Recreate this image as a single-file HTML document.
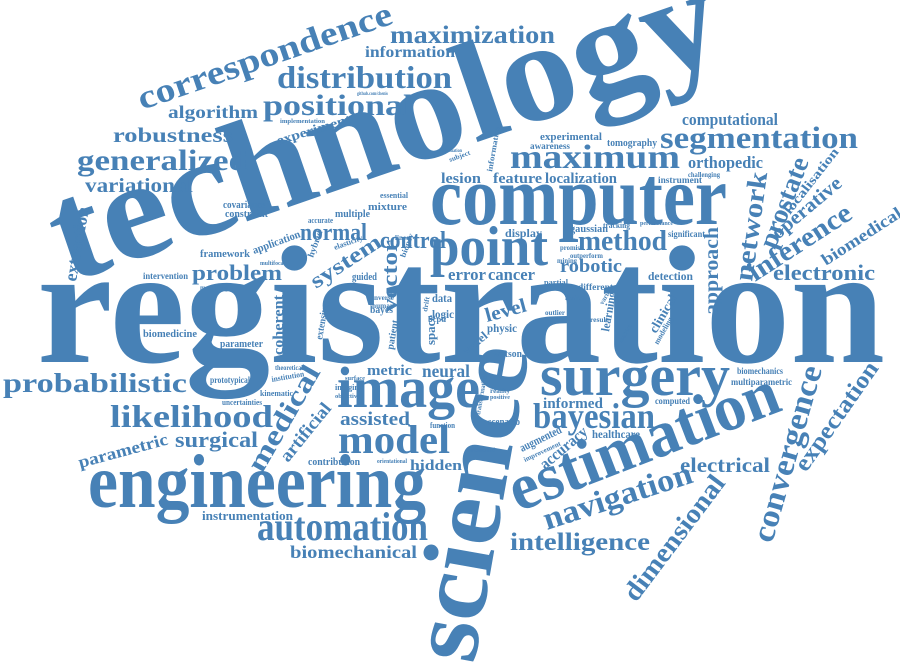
<!DOCTYPE html>
<html><head><meta charset="utf-8">
<style>
html,body{margin:0;padding:0;background:#fff;width:900px;height:672px;overflow:hidden}
svg{display:block}
text{font-family:"Liberation Serif",serif;font-weight:bold;fill:#4781b6}
</style></head>
<body>
<svg id="cloud" width="900" height="672" viewBox="0 0 900 672" xmlns="http://www.w3.org/2000/svg"></svg>
<script>
// word, baseline-start x, baseline y, font size, rotation deg, text length
const words = [
["registration",37,362,168,0,848],
["technology",68,283,142,-19,700],
["science",474,665,100,-80,318],
["computer",430,224,84,0,297],
["engineering",88,507,76,0,338],
["estimation",518,512,66,-21,285],
["image",337,407,58,0,143],
["surgery",540,395,58,0,190],
["point",430,265,56,0,118],
["correspondence",142,110,34,-19,267],
["maximization",390,43,25,0,165],
["information",365,57,16,0,90],
["distribution",277,88,32,0,175],
["positional",263,115,30,0,150],
["algorithm",168,118,18,0,90],
["robustness",113,142,21,0,120],
["generalized",77,170,30,0,171],
["variational",85,192,20,0,108],
["experiment",278,145,13,-17,77],
["implementation",280,123,6,0,45],
["github.com/chenis",357,95,5,0,31],
["segmentation",660,148,31,0,198],
["maximum",510,168,34,0,170],
["computational",682,125,17,0,96],
["experimental",540,140,11,0,62],
["awareness",530,149,9,0,40],
["tomography",607,146,10,0,50],
["orthopedic",688,168,17,0,75],
["lesion",441,183,15,0,40],
["feature",493,183,15,0,49],
["localization",545,183,15,0,72],
["instrument",658,183,9,0,44],
["challenging",688,177,7,0,32],
["network",752,282,27,-82,110],
["prostate",775,250,27,-69,95],
["localisation",790,215,13,-52,80],
["operative",778,240,20,-40,85],
["inference",755,282,28,-33,118],
["biomedical",826,266,17,-33,92],
["electronic",773,280,22,0,102],
["approach",718,315,20,-90,88],
["method",578,250,28,0,89],
["robotic",560,272,19,0,62],
["error",448,280,17,0,38],
["cancer",488,280,17,0,47],
["detection",648,280,12,0,45],
["display",505,237,12,0,37],
["gaussian",570,232,11,0,38],
["significant",668,237,9,0,37],
["level",487,322,20,-15,42],
["physic",487,332,12,0,30],
["watson",493,357,11,0,29],
["clinical",656,334,13,-60,42],
["learning",609,332,12,-80,40],
["biomechanics",737,374,9,0,46],
["multiparametric",731,385,9,0,61],
["informatics",492,172,8,-80,45],
["control",380,248,24,0,66],
["normal",300,240,24,0,67],
["vector",397,312,22,-90,72],
["system",316,289,22,-33,80],
["problem",192,280,22,0,90],
["framework",200,257,11,0,50],
["intervention",143,279,9,0,45],
["application",254,254,11,-20,50],
["extraction",76,282,18,-80,75],
["covariance",223,208,10,0,42],
["constraint",225,217,10,0,43],
["multiple",335,217,10,0,35],
["mixture",368,210,10,0,39],
["essential",380,198,8,0,28],
["accurate",308,223,8,0,25],
["guided",352,280,10,0,25],
["bayes",370,313,10,0,23],
["data",432,302,12,0,20],
["logic",432,318,12,0,22],
["extensive",322,340,10,-80,36],
["patient",393,350,10,-80,30],
["biomedicine",143,337,11,0,54],
["parameter",220,347,11,0,43],
["coherent",283,355,15,-90,60],
["probabilistic",3,392,27,0,184],
["likelihood",110,427,32,0,163],
["parametric",80,468,17,-15,92],
["surgical",175,447,22,0,83],
["medical",262,474,28,-60,118],
["artificial",288,463,18,-51,70],
["prototypical",210,383,9,0,40],
["uncertainties",222,405,8,0,40],
["kinematic",260,396,8,0,33],
["institution",272,382,8,-10,33],
["theoretical",275,370,7,0,28],
["metric",367,375,15,0,45],
["neural",422,377,18,0,48],
["assisted",340,425,19,0,70],
["model",338,453,40,0,112],
["contribution",308,465,10,0,52],
["orientational",377,463,6,0,30],
["hidden",410,470,15,0,52],
["function",430,428,8,0,25],
["scenario",488,425,11,0,32],
["informed",543,408,15,0,60],
["bayesian",533,428,36,0,122],
["computed",655,404,9,0,35],
["healthcare",592,438,12,0,48],
["augmented",522,452,12,-26,45],
["accuracy",545,470,16,-40,57],
["improvement",525,462,7,-25,40],
["ultrasound",470,452,6,0,25],
["electrical",680,472,21,0,90],
["navigation",547,530,32,-18,155],
["intelligence",510,550,25,0,140],
["dimensional",636,603,27,-53,150],
["convergence",772,544,32,-74,182],
["expectation",806,473,24,-55,128],
["instrumentation",202,520,13,0,91],
["automation",257,540,40,0,171],
["biomechanical",290,558,18,0,127],
["voxel",467,355,12,-40,28],
["space",435,345,13,-90,30],
["fusion",565,300,7,0,20],
["outlier",545,315,7,0,20],
["result",590,322,7,0,18],
["partial",544,285,8,0,24],
["different",578,290,9,0,35],
["promis",560,250,7,0,20],
["outperform",570,258,7,0,33],
["tracking",603,228,8,0,27],
["performance",640,225,6,0,33],
["mining",557,263,7,0,20],
["inverse",372,300,7,0,22],
["human",372,308,7,0,22],
["imaging",335,390,8,0,28],
["objective",335,398,6,0,25],
["surface",345,380,6,0,20],
["hybrid",313,258,9,-70,28],
["elasticity",335,250,8,-20,30],
["biopsy",405,258,8,-70,25],
["linear",395,240,7,0,18],
["modelling",200,290,7,0,28],
["multifocal",260,265,6,0,25],
["subject",450,162,7,-20,22],
["deformation",440,152,5,0,22],
["bcpd",428,322,8,0,18],
["drift",427,312,7,-80,15],
["reality",490,393,7,0,20],
["positive",490,399,6,0,20],
["transformation",480,415,7,-80,40],
["modeling",658,345,8,-60,30],
["matrice",622,343,7,-60,20],
["variate",603,305,7,-60,20]
];
const svg = document.getElementById('cloud');
const NS = 'http://www.w3.org/2000/svg';
for (const w of words) {
  const t = document.createElementNS(NS, 'text');
  
  
  t.setAttribute('x', w[1]);
  t.setAttribute('y', w[2]);
  t.setAttribute('font-size', w[3]);
  if (w[4]) t.setAttribute('transform', 'rotate(' + w[4] + ' ' + w[1] + ' ' + w[2] + ')');
  if (w[5]) { t.setAttribute('textLength', w[5]); t.setAttribute('lengthAdjust', 'spacingAndGlyphs'); }
  t.textContent = w[0];
  svg.appendChild(t);
}
</script>
</body></html>
